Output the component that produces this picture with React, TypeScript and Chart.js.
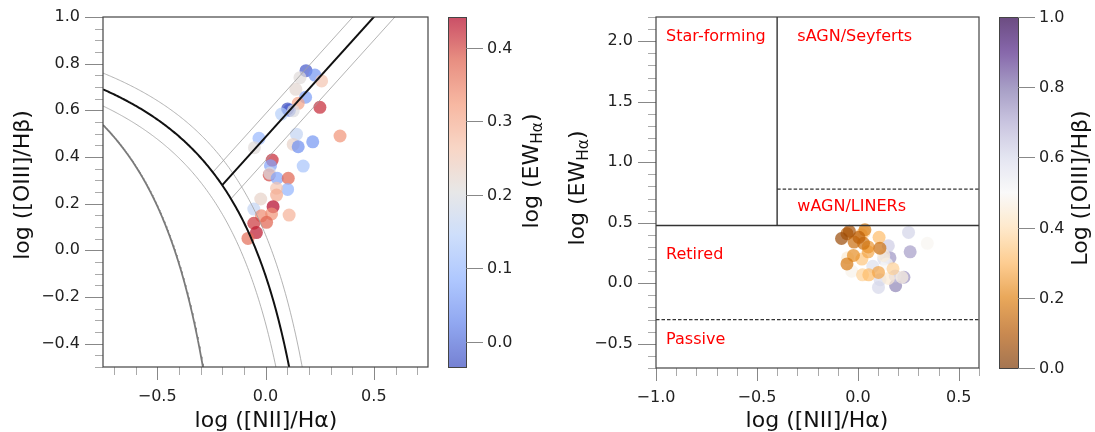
import { useEffect, useRef } from 'react';
import { Chart, registerables } from 'chart.js';

Chart.register(...registerables);

const W = 1095;
const H = 432;
const FONT = '"DejaVu Sans", "Liberation Sans", sans-serif';

// ---- data: one entry per galaxy ----
const logNIIHa = [
  0.187, 0.228, 0.159, 0.259, 0.140, 0.185, 0.151, 0.110, 0.102, 0.074,
  0.128, 0.251, -0.030, -0.051, 0.143, 0.218, 0.344, 0.128, 0.151, 0.174,
  0.031, 0.023, 0.017, 0.020, 0.054, 0.105, 0.102, 0.051, 0.051, -0.022,
  -0.054, 0.035, 0.028, -0.019, 0.109, 0.005, -0.054, -0.042, -0.081,
];
const logOIIIHb = [
  0.770, 0.751, 0.740, 0.726, 0.690, 0.656, 0.630, 0.600, 0.606, 0.584,
  0.598, 0.613, 0.480, 0.440, 0.498, 0.465, 0.490, 0.454, 0.444, 0.361,
  0.387, 0.363, 0.323, 0.330, 0.309, 0.309, 0.261, 0.266, 0.237, 0.220,
  0.177, 0.187, 0.156, 0.148, 0.151, 0.120, 0.116, 0.076, 0.051,
];
const logEWHa = [
  -0.020, 0.050, 0.210, 0.260, 0.220, 0.060, 0.310, 0.030, -0.034, 0.140,
  0.200, 0.420, 0.100, 0.210, 0.160, 0.050, 0.330, 0.230, 0.040, 0.120,
  0.420, 0.070, 0.400, 0.200, 0.070, 0.380, 0.090, 0.260, 0.300, 0.230,
  0.160, 0.442, 0.330, 0.340, 0.290, 0.380, 0.410, 0.430, 0.370,
];

// ---- tick labels ----
const bptXTicks = [-0.5, 0.0, 0.5];
const bptYTicks = [-0.4, -0.2, 0.0, 0.2, 0.4, 0.6, 0.8, 1.0];
const whanXTicks = [-1.0, -0.5, 0.0, 0.5];
const whanYTicks = [-0.5, 0.0, 0.5, 1.0, 1.5, 2.0];
const ewCbTicks = [0.0, 0.1, 0.2, 0.3, 0.4];
const oiiiCbTicks = [0.0, 0.2, 0.4, 0.6, 0.8, 1.0];

// ---- demarcation lines ----
const kewley01 = { a: 0.61, b: 0.47, c: 1.19 };
const kewleyUpper = { a: 0.61, b: 0.52, c: 1.24 };
const kewleyLower = { a: 0.61, b: 0.42, c: 1.14 };
const kauffmann03 = { a: 0.61, b: 0.05, c: 1.3 };
const seyLinerSlope = 1.03;
const seyLinerIntercepts = [0.485, 0.585, 0.385];
const whanNIIcut = -0.4;
const whanEW3 = Math.log10(3);
const whanEW6 = Math.log10(6);
const whanEW05 = Math.log10(0.5);

const whanLabels = [
  { text: 'Star-forming', x: -0.95, y: 2.0 },
  { text: 'sAGN/Seyferts', x: -0.3, y: 2.0 },
  { text: 'wAGN/LINERs', x: -0.3, y: 0.6 },
  { text: 'Retired', x: -0.95, y: 0.2 },
  { text: 'Passive', x: -0.95, y: -0.5 },
];

const coolwarm = [
  [59, 76, 192], [98, 130, 234], [141, 176, 254], [184, 208, 249], [221, 221, 221],
  [245, 196, 173], [244, 154, 123], [222, 96, 77], [180, 4, 38],
];
const puor = [
  [127, 59, 8], [179, 88, 6], [224, 130, 20], [253, 184, 99], [254, 224, 182],
  [247, 247, 247], [216, 218, 235], [178, 171, 210], [128, 115, 172], [84, 39, 136], [45, 0, 75],
];
const ALPHA = 0.7;

function cmap(stops: number[][], t: number, alpha: number) {
  const tt = Math.max(0, Math.min(1, t));
  const pos = tt * (stops.length - 1);
  const i = Math.min(Math.floor(pos), stops.length - 2);
  const f = pos - i;
  const c = stops[i].map((v, k) => Math.round(v + (stops[i + 1][k] - v) * f));
  return `rgba(${c[0]},${c[1]},${c[2]},${alpha})`;
}

function curve(p: { a: number; b: number; c: number }, xmin: number, ymin: number) {
  const xEnd = p.b + p.a / (ymin - 0.05 - p.c);
  const pts = [];
  const n = 160;
  for (let i = 0; i <= n; i++) {
    const x = xmin + ((xEnd - xmin) * i) / n;
    pts.push({ x, y: p.a / (x - p.b) + p.c });
  }
  return pts;
}

function intersectKewley(intercept: number) {
  let lo = -0.6, hi = 0.3;
  const g = (x: number) => kewley01.a / (x - kewley01.b) + kewley01.c - (seyLinerSlope * x + intercept);
  for (let k = 0; k < 60; k++) {
    const mid = (lo + hi) / 2;
    if (g(lo) * g(mid) <= 0) hi = mid; else lo = mid;
  }
  return (lo + hi) / 2;
}

function fmt(v: number) {
  const s = (Math.abs(v) < 1e-9 ? 0 : v).toFixed(1);
  return s.replace('-', '\u2212');
}

function minorList(min: number, max: number, step: number) {
  const out: number[] = [];
  const n = Math.round((max - min) / step);
  for (let i = 0; i <= n; i++) out.push(+(min + i * step).toFixed(4));
  return out;
}

type Part = { t: string; sub?: boolean };
function drawRich(ctx: CanvasRenderingContext2D, parts: Part[], cx: number, cy: number, size: number, rot: number) {
  ctx.save();
  ctx.translate(cx, cy);
  ctx.rotate(rot);
  ctx.textBaseline = 'alphabetic';
  ctx.textAlign = 'left';
  const ws = parts.map((p) => {
    ctx.font = `${p.sub ? size * 0.7 : size}px ${FONT}`;
    return ctx.measureText(p.t).width;
  });
  const total = ws.reduce((a, b) => a + b, 0);
  let x = -total / 2;
  const base = size * 0.31;
  parts.forEach((p, i) => {
    ctx.font = `${p.sub ? size * 0.7 : size}px ${FONT}`;
    ctx.fillText(p.t, x, base + (p.sub ? size * 0.2 : 0));
    x += ws[i];
  });
  ctx.restore();
}

type Decor = {
  id: string;
  xMajor: number[]; xMinor: number[]; yMajor: number[]; yMinor: number[];
  xTitle: Part[]; xTitlePos: [number, number];
  yTitle: Part[]; yTitlePos: [number, number];
  cb: { x0: number; x1: number; vmin: number; vmax: number; stops: number[][]; ticks: number[]; title: Part[]; titlePos: [number, number] };
  texts?: { text: string; x: number; y: number }[];
};

const TITLE_SIZE = 22;

function decorPlugin(d: Decor) {
  return {
    id: d.id,
    afterDraw(chart: any) {
      const { ctx, chartArea: ca } = chart;
      const xs = chart.scales.x;
      const ys = chart.scales.y;
      ctx.save();
      ctx.lineWidth = 1;
      const tick = (v: number, len: number, horiz: boolean, color: string) => {
        ctx.strokeStyle = color;
        ctx.beginPath();
        if (horiz) {
          const p = Math.round(xs.getPixelForValue(v)) + 0.5;
          ctx.moveTo(p, ca.bottom);
          ctx.lineTo(p, ca.bottom + len);
        } else {
          const p = Math.round(ys.getPixelForValue(v)) + 0.5;
          ctx.moveTo(ca.left, p);
          ctx.lineTo(ca.left - len, p);
        }
        ctx.stroke();
      };
      d.xMinor.forEach((v) => tick(v, 8, true, '#aaa'));
      d.yMinor.forEach((v) => tick(v, 8, false, '#aaa'));
      d.xMajor.forEach((v) => tick(v, 13, true, '#888'));
      d.yMajor.forEach((v) => tick(v, 18, false, '#888'));
      ctx.strokeStyle = '#444';
      ctx.lineWidth = 1.2;
      ctx.strokeRect(ca.left, ca.top, ca.width, ca.height);
      if (d.texts) {
        ctx.fillStyle = 'red';
        ctx.font = `16px ${FONT}`;
        ctx.textAlign = 'left';
        ctx.textBaseline = 'alphabetic';
        d.texts.forEach((t) => ctx.fillText(t.text, xs.getPixelForValue(t.x), ys.getPixelForValue(t.y)));
      }
      ctx.fillStyle = '#111';
      drawRich(ctx, d.xTitle, d.xTitlePos[0], d.xTitlePos[1], TITLE_SIZE, 0);
      drawRich(ctx, d.yTitle, d.yTitlePos[0], d.yTitlePos[1], TITLE_SIZE, -Math.PI / 2);
      const cb = d.cb;
      const top = ca.top, bot = ca.bottom;
      const grad = ctx.createLinearGradient(0, bot, 0, top);
      for (let i = 0; i <= 64; i++) grad.addColorStop(i / 64, cmap(cb.stops, i / 64, ALPHA));
      ctx.fillStyle = grad;
      ctx.fillRect(cb.x0, top, cb.x1 - cb.x0, bot - top);
      ctx.strokeStyle = '#444';
      ctx.lineWidth = 1;
      ctx.strokeRect(cb.x0 + 0.5, top + 0.5, cb.x1 - cb.x0, bot - top);
      const cbY = (v: number) => bot - ((v - cb.vmin) / (cb.vmax - cb.vmin)) * (bot - top);
      ctx.fillStyle = '#222';
      ctx.font = `16px ${FONT}`;
      ctx.textAlign = 'left';
      ctx.textBaseline = 'middle';
      cb.ticks.forEach((v) => {
        const p = Math.round(cbY(v)) + 0.5;
        ctx.strokeStyle = '#888';
        ctx.beginPath();
        ctx.moveTo(cb.x1, p);
        ctx.lineTo(cb.x1 + 17, p);
        ctx.stroke();
        ctx.fillText(fmt(v), cb.x1 + 21, p);
      });
      ctx.fillStyle = '#111';
      drawRich(ctx, cb.title, cb.titlePos[0], cb.titlePos[1], TITLE_SIZE, -Math.PI / 2);
      ctx.restore();
    },
  };
}

function zeroPad(s: any) {
  s.paddingLeft = 0; s.paddingRight = 0; s.paddingTop = 0; s.paddingBottom = 0;
}

function axis(min: number, max: number, ticks: number[], horiz: boolean, size: number) {
  return {
    type: 'linear' as const,
    min, max,
    afterBuildTicks: (s: any) => { s.ticks = ticks.map((v) => ({ value: v })); },
    afterFit: (s: any) => { if (horiz) s.height = size; else s.width = size; zeroPad(s); },
    grid: { display: false, drawTicks: false },
    border: { display: false },
    ticks: {
      autoSkip: false, maxRotation: 0, minRotation: 0,
      padding: horiz ? 20 : 23,
      color: '#222',
      font: { family: FONT, size: 16 },
      callback: (v: any) => fmt(Number(v)),
    },
  };
}

function lineDs(data: { x: number; y: number }[], color: string, width: number, dash: number[] = []) {
  return {
    type: 'scatter' as const,
    data, showLine: true, borderColor: color, borderWidth: width, borderDash: dash,
    pointRadius: 0, fill: false, tension: 0,
  };
}

export default function App() {
  const leftRef = useRef<HTMLCanvasElement>(null);
  const rightRef = useRef<HTMLCanvasElement>(null);

  useEffect(() => {
    const ewMin = Math.min(...logEWHa);
    const ewMax = Math.max(...logEWHa);

    const pts = logNIIHa.map((x, i) => ({ x, y: logOIIIHb[i] }));
    const whanPts = logNIIHa.map((x, i) => ({ x, y: logEWHa[i] }));
    const ewColors = logEWHa.map((v) => cmap(coolwarm, (v - ewMin) / (ewMax - ewMin), ALPHA));
    const oiiiColors = logOIIIHb.map((v) => cmap(puor, v, ALPHA));

    const bptXmin = -0.75, bptXmax = 0.75, bptYmin = -0.5, bptYmax = 1.0;
    const seyLines = seyLinerIntercepts.map((c) => {
      const x0 = intersectKewley(c);
      const x1 = (bptYmax + 0.05 - c) / seyLinerSlope;
      return [{ x: x0, y: seyLinerSlope * x0 + c }, { x: x1, y: seyLinerSlope * x1 + c }];
    });

    const left = new Chart(leftRef.current!, {
      type: 'scatter',
      data: {
        datasets: [
          lineDs(curve(kewley01, bptXmin, bptYmin), '#111', 2),
          lineDs(seyLines[0], '#111', 2),
          lineDs(curve(kewleyUpper, bptXmin, bptYmin), '#a0a0a0', 0.8),
          lineDs(curve(kewleyLower, bptXmin, bptYmin), '#a0a0a0', 0.8),
          lineDs(seyLines[1], '#a0a0a0', 0.8),
          lineDs(seyLines[2], '#a0a0a0', 0.8),
          lineDs(curve(kauffmann03, bptXmin, bptYmin), '#7a7a7a', 1.8),
          {
            type: 'scatter',
            data: pts,
            backgroundColor: ewColors,
            pointRadius: 6.5,
            borderWidth: 0,
          },
        ] as any,
      },
      options: {
        animation: false,
        responsive: false,
        events: [],
        layout: { padding: { left: 0, top: 17, right: W - 428, bottom: 0 } },
        plugins: { legend: { display: false }, tooltip: { enabled: false } },
        scales: {
          x: axis(bptXmin, bptXmax, bptXTicks, true, H - 367),
          y: axis(bptYmin, bptYmax, bptYTicks, false, 103),
        } as any,
      },
      plugins: [decorPlugin({
        id: 'decorL',
        xMajor: bptXTicks, xMinor: minorList(-0.7, 0.7, 0.1),
        yMajor: bptYTicks, yMinor: minorList(-0.5, 1.0, 0.05),
        xTitle: [{ t: 'log ([NII]/H\u03b1)' }], xTitlePos: [266, 420],
        yTitle: [{ t: 'log ([OIII]/H\u03b2)' }], yTitlePos: [22, 185],
        cb: {
          x0: 448, x1: 466, vmin: ewMin, vmax: ewMax, stops: coolwarm, ticks: ewCbTicks,
          title: [{ t: 'log (EW' }, { t: 'H\u03b1', sub: true }, { t: ')' }], titlePos: [531, 171],
        },
      }) as any],
    });

    const right = new Chart(rightRef.current!, {
      type: 'scatter',
      data: {
        datasets: [
          lineDs([{ x: whanNIIcut, y: whanEW3 }, { x: whanNIIcut, y: 2.2 }], '#333', 1.4),
          lineDs([{ x: -1.0, y: whanEW3 }, { x: 0.6, y: whanEW3 }], '#333', 1.4),
          lineDs([{ x: whanNIIcut, y: whanEW6 }, { x: 0.6, y: whanEW6 }], '#333', 1.3, [3.5, 2]),
          lineDs([{ x: -1.0, y: whanEW05 }, { x: 0.6, y: whanEW05 }], '#333', 1.3, [3.5, 2]),
          {
            type: 'scatter',
            data: whanPts,
            backgroundColor: oiiiColors,
            pointRadius: 6.5,
            borderWidth: 0,
          },
        ] as any,
      },
      options: {
        animation: false,
        responsive: false,
        events: [],
        layout: { padding: { left: 0, top: 17, right: W - 979, bottom: 0 } },
        plugins: { legend: { display: false }, tooltip: { enabled: false } },
        scales: {
          x: axis(-1.0, 0.6, whanXTicks, true, H - 368),
          y: axis(-0.7, 2.2, whanYTicks, false, 656),
        } as any,
      },
      plugins: [decorPlugin({
        id: 'decorR',
        xMajor: whanXTicks, xMinor: minorList(-1.0, 0.6, 0.1),
        yMajor: whanYTicks, yMinor: minorList(-0.7, 2.2, 0.1),
        xTitle: [{ t: 'log ([NII]/H\u03b1)' }], xTitlePos: [817, 420],
        yTitle: [{ t: 'log (EW' }, { t: 'H\u03b1', sub: true }, { t: ')' }], yTitlePos: [577, 188],
        cb: {
          x0: 999, x1: 1018, vmin: 0, vmax: 1, stops: puor, ticks: oiiiCbTicks,
          title: [{ t: 'Log ([OIII]/H\u03b2)' }], titlePos: [1080, 188],
        },
        texts: whanLabels,
      }) as any],
    });

    return () => {
      left.destroy();
      right.destroy();
    };
  }, []);

  const cs: React.CSSProperties = { position: 'absolute', left: 0, top: 0, width: W, height: H };
  return (
    <div style={{ position: 'fixed', left: 0, top: 0, width: W, height: H, background: '#fff' }}>
      <canvas ref={leftRef} width={W} height={H} style={cs} />
      <canvas ref={rightRef} width={W} height={H} style={cs} />
    </div>
  );
}
